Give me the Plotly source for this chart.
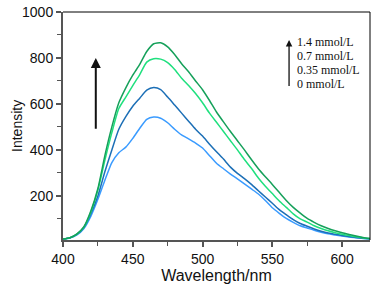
import plotly.graph_objects as go

wavelength = [400, 405, 410, 415, 420, 425, 430, 435, 440, 445, 450, 455, 460, 465, 470,
              475, 480, 485, 490, 495, 500, 505, 510, 515, 520, 525, 530, 535, 540, 545,
              550, 555, 560, 565, 570, 575, 580, 585, 590, 595, 600, 605, 610, 615, 620]

c_0 = [12, 17, 30, 58, 112, 185, 268, 345, 388, 412, 450, 494, 533, 543, 538,
       518, 490, 465, 448, 430, 408, 375, 342, 318, 295, 274, 252, 230, 208, 180,
       148, 124, 102, 85, 70, 60, 50, 42, 35, 30, 25, 21, 18, 15, 12]
c_035 = [12, 18, 32, 62, 122, 200, 305, 400, 490, 545, 590, 625, 660, 671, 662,
         630, 595, 560, 525, 490, 460, 425, 392, 360, 325, 298, 275, 250, 222, 195,
         168, 140, 118, 97, 80, 68, 56, 46, 38, 33, 28, 23, 19, 16, 13]
c_07 = [12, 18, 34, 64, 130, 225, 355, 475, 580, 630, 680, 728, 782, 797, 795,
        780, 750, 712, 680, 645, 605, 560, 520, 480, 440, 400, 358, 320, 278, 242,
        210, 178, 150, 122, 100, 86, 70, 58, 48, 40, 33, 27, 22, 17, 14]
c_14 = [12, 18, 35, 66, 135, 232, 375, 500, 605, 670, 725, 772, 828, 862, 866,
        848, 815, 775, 740, 700, 662, 615, 565, 522, 480, 440, 400, 358, 318, 283,
        250, 215, 180, 150, 125, 102, 85, 70, 58, 48, 40, 32, 25, 19, 14]

series = [("0 mmol/L", c_0, "#3a9bff"),
          ("0.35 mmol/L", c_035, "#1c6fb6"),
          ("0.7 mmol/L", c_07, "#1fe07e"),
          ("1.4 mmol/L", c_14, "#15a05a")]

legend_labels = ["1.4 mmol/L", "0.7 mmol/L", "0.35 mmol/L", "0 mmol/L"]

fig = go.Figure()
for name, vals, col in series:
    fig.add_trace(go.Scatter(x=wavelength, y=vals, mode="lines", name=name,
                             line=dict(color=col, width=1.5, shape="spline", smoothing=0.6),
                             showlegend=False))

axis_font = dict(family="Liberation Sans, Arial, sans-serif", size=14, color="#111")

fig.update_layout(
    width=379, height=286,
    margin=dict(l=63, r=9, t=12, b=46, autoexpand=False),
    paper_bgcolor="white", plot_bgcolor="white",
    xaxis=dict(range=[400, 620], tickvals=[400, 450, 500, 550, 600], automargin=False,
               showline=True, linecolor="#555", linewidth=2, mirror=False,
               ticks="outside", ticklen=5, tickwidth=1.5, tickcolor="#555",
               minor=dict(ticks="outside", dtick=25, tick0=400, ticklen=4, tickcolor="#555", tickwidth=1),
               showgrid=False, zeroline=False, tickfont=axis_font,
               title=dict(text="Wavelength/nm", font=dict(family="Liberation Sans, Arial, sans-serif", size=16, color="#111"), standoff=3)),
    yaxis=dict(range=[8, 1000], tickvals=[200, 400, 600, 800, 1000], automargin=False,
               showline=True, linecolor="#555", linewidth=2, mirror=False,
               ticks="outside", ticklen=5, tickwidth=1.5, tickcolor="#555",
               minor=dict(ticks="outside", dtick=100, tick0=0, ticklen=4, tickcolor="#555", tickwidth=1),
               showgrid=False, zeroline=False, tickfont=axis_font),
    shapes=[
        dict(type="line", xref="paper", yref="paper", x0=0, x1=1, y0=1, y1=1, line=dict(color="black", width=1)),
        dict(type="line", xref="paper", yref="paper", x0=1, x1=1, y0=0, y1=1, line=dict(color="black", width=1)),
    ],
)

# y-axis title
fig.add_annotation(x=-0.15, y=0.5, xref="paper", yref="paper", text="Intensity", showarrow=False,
                   textangle=-90, xanchor="center", yanchor="middle",
                   font=dict(family="Liberation Sans, Arial, sans-serif", size=14, color="#111"))

# left big arrow
fig.add_annotation(x=423.5, y=800, ax=423.5, ay=486, xref="x", yref="y", axref="x", ayref="y",
                   showarrow=True, arrowhead=2, arrowsize=1, arrowwidth=2, arrowcolor="#111", text="")
# right small arrow
fig.add_annotation(x=562, y=878, ax=562, ay=672, xref="x", yref="y", axref="x", ayref="y",
                   showarrow=True, arrowhead=2, arrowsize=1, arrowwidth=1.3, arrowcolor="#111", text="")

label_y = [868, 807, 747, 686]
for lab, yv in zip(legend_labels, label_y):
    fig.add_annotation(x=566.5, y=yv, xref="x", yref="y", text=lab, showarrow=False,
                       xanchor="left", yanchor="middle",
                       font=dict(family="Liberation Serif, Times New Roman, serif", size=12, color="#111"))

fig.write_html("out.html", config={"displayModeBar": False},
               post_script="document.body.style.margin='0';document.body.style.overflow='hidden';")
